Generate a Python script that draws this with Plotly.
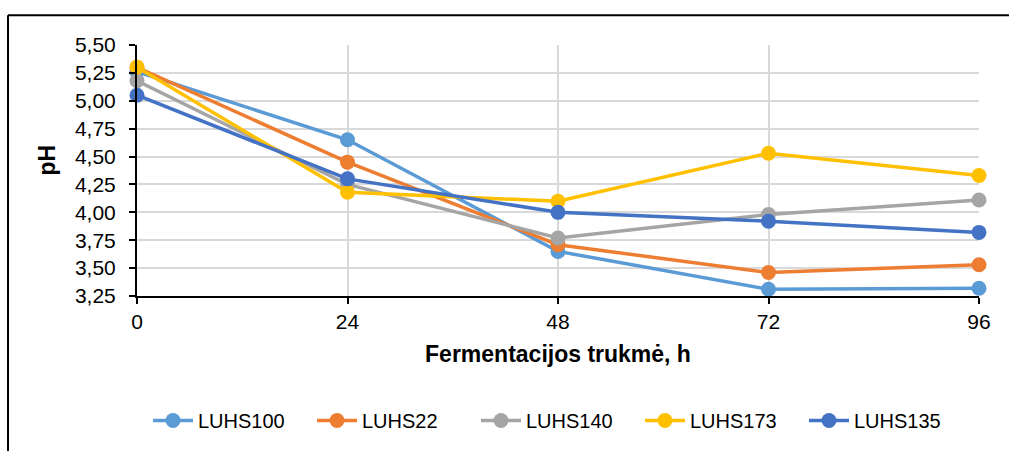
import plotly.graph_objects as go

# Fermentation time (h) and measured pH per strain
hours = [0, 24, 48, 72, 96]
luhs100 = [5.26, 4.65, 3.65, 3.31, 3.32]
luhs22 = [5.30, 4.45, 3.71, 3.46, 3.53]
luhs140 = [5.18, 4.25, 3.77, 3.98, 4.11]
luhs173 = [5.30, 4.18, 4.10, 4.53, 4.33]
luhs135 = [5.05, 4.30, 4.00, 3.92, 3.82]

series_names = ["LUHS100", "LUHS22", "LUHS140", "LUHS173", "LUHS135"]
series_values = [luhs100, luhs22, luhs140, luhs173, luhs135]
series_colors = ["#5B9BD5", "#ED7D31", "#A5A5A5", "#FFC000", "#4472C4"]

y_ticks = [3.25, 3.50, 3.75, 4.00, 4.25, 4.50, 4.75, 5.00, 5.25, 5.50]

font_family = "Liberation Sans, Arial, sans-serif"

fig = go.Figure()
for name, vals, color in zip(series_names, series_values, series_colors):
    fig.add_trace(go.Scatter(
        x=hours, y=vals, name=name, mode="lines+markers",
        line=dict(color=color, width=3.5),
        marker=dict(color=color, size=15),
        cliponaxis=False,
    ))

fig.update_layout(
    width=1009, height=451,
    margin=dict(l=137, r=30, t=45, b=154),
    paper_bgcolor="white", plot_bgcolor="white",
    separators=",.",
    font=dict(family=font_family, size=21, color="#000000"),
    showlegend=True,
    legend=dict(
        orientation="h", x=0.5, xanchor="center", y=-0.49, yanchor="middle",
        font=dict(size=20), itemwidth=40, tracegroupgap=0,
        entrywidth=109, entrywidthmode="pixels",
    ),
    xaxis=dict(
        range=[0, 96], tickvals=hours, ticktext=[str(h) for h in hours],
        tickfont=dict(size=21),
        showgrid=True, gridcolor="#D9D9D9", gridwidth=1.5,
        showline=True, linecolor="#000000", linewidth=2,
        ticks="outside", ticklen=6, tickcolor="#000000", tickwidth=2,
        zeroline=False,
        title=dict(text="<b>Fermentacijos trukmė, h</b>", font=dict(size=23), standoff=14),
    ),
    yaxis=dict(
        range=[3.25, 5.50], tickvals=y_ticks, tickformat=".2f",
        tickfont=dict(size=21), ticklabelstandoff=9,
        showgrid=True, gridcolor="#D9D9D9", gridwidth=1.5,
        showline=True, linecolor="#000000", linewidth=2,
        ticks="outside", ticklen=6, tickcolor="#000000", tickwidth=2,
        zeroline=False,
    ),
    annotations=[
        dict(text="<b>pH</b>", textangle=-90, xref="paper", yref="paper",
             x=(47 - 137) / 842, y=(297 - 161) / 252,
             xanchor="center", yanchor="middle", showarrow=False,
             font=dict(size=23)),
    ],
    shapes=[
        dict(type="line", xref="paper", yref="paper",
             x0=-0.1532, x1=1.1, y0=1.119, y1=1.119,
             line=dict(color="#000000", width=2)),
        dict(type="line", xref="paper", yref="paper",
             x0=-0.1532, x1=-0.1532, y0=1.119, y1=-0.7,
             line=dict(color="#000000", width=2)),
    ],
)

fig.write_html("out.html")
